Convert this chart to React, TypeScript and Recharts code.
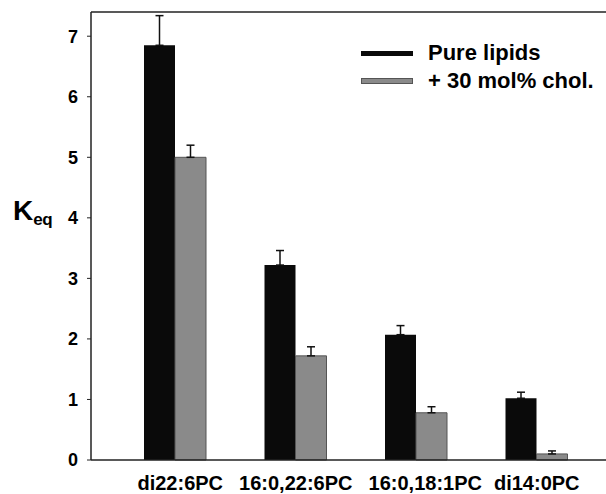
import React from 'react';
import { BarChart, Bar, XAxis, YAxis, ErrorBar, Label, ReferenceLine } from 'recharts';

const categories = ['di22:6PC', '16:0,22:6PC', '16:0,18:1PC', 'di14:0PC'];
const pureLipids = [6.85, 3.22, 2.07, 1.02];
const pureErr = [0.49, 0.24, 0.15, 0.1];
const withChol = [5.0, 1.72, 0.78, 0.1];
const cholErr = [0.2, 0.15, 0.1, 0.05];
const yTicks = [0, 1, 2, 3, 4, 5, 6, 7];
const yMax = 7.4;

const FONT = "'Liberation Sans', Arial, Helvetica, sans-serif";
// category labels in the original sit a little off-centre
const labelShift = [5, 0, 9, 0];

const series = [
  { key: 'pure', name: 'Pure lipids', fill: '#0a0a0a', stroke: 'none' },
  { key: 'chol', name: '+ 30 mol% chol.', fill: '#8a8a8a', stroke: '#555' },
];

const data = categories.map((name, i) => ({
  name,
  pure: pureLipids[i],
  pureErr: [0, pureErr[i]],
  chol: withChol[i],
  cholErr: [0, cholErr[i]],
}));

const CategoryTick = (props: any) => {
  const { x, y, payload, index } = props;
  return (
    <text
      x={x + (labelShift[index] || 0)}
      y={y}
      dy="0.71em"
      textAnchor="middle"
      fill="#000"
      fontSize={20}
      fontWeight={700}
      fontFamily={FONT}
    >
      {payload.value}
    </text>
  );
};

// legend drawn over the chart so it doesn't eat plot space
const ChartLegend = () => (
  <div
    style={{
      position: 'absolute',
      left: 361,
      top: 39,
      fontFamily: FONT,
      fontWeight: 700,
      fontSize: 22,
      color: '#000',
    }}
  >
    {series.map((s, i) => (
      <div key={s.key} style={{ display: 'flex', alignItems: 'center', height: 28 }}>
        <span
          style={{
            display: 'inline-block',
            width: i === 0 ? 52 : 50,
            height: i === 0 ? 5 : 4,
            background: s.fill,
            border: s.stroke === 'none' ? 'none' : `1px solid ${s.stroke}`,
            marginRight: 15,
          }}
        />
        <span>{s.name}</span>
      </div>
    ))}
  </div>
);

export default function App() {
  // the plot box runs off the right edge in the original, so the svg is wider and clipped
  return (
    <div style={{ position: 'absolute', left: 0, top: 0, width: 606, height: 494, background: '#fff', overflow: 'hidden' }}>
      <BarChart
        width={636}
        height={494}
        data={data}
        margin={{ top: 12, right: 0, bottom: 0, left: 0 }}
        barGap={0}
        barSize={31}
      >
        <XAxis
          dataKey="name"
          height={34}
          padding={{ left: 24, right: 39 }}
          axisLine={{ stroke: '#222', strokeWidth: 1.5 }}
          tickLine={false}
          tickSize={0}
          tickMargin={16}
          interval={0}
          tick={<CategoryTick />}
        />
        <YAxis
          width={91}
          domain={[0, yMax]}
          ticks={yTicks}
          interval={0}
          axisLine={{ stroke: '#222', strokeWidth: 1.5 }}
          tickLine={{ stroke: '#222' }}
          tickSize={4}
          tickMargin={9}
          tick={{ fill: '#000', fontSize: 18, fontWeight: 700, fontFamily: FONT }}
        >
          <Label
            content={() => (
              <text x={13} y={220} fill="#000" fontFamily={FONT} fontWeight={700}>
                <tspan fontSize={28}>K</tspan>
                <tspan fontSize={17} dy={5} letterSpacing={-0.5}>eq</tspan>
              </text>
            )}
          />
        </YAxis>
        <ReferenceLine y={yMax} stroke="#222" strokeWidth={1.5} />
        {series.map((s) => (
          <Bar
            key={s.key}
            dataKey={s.key}
            name={s.name}
            fill={s.fill}
            stroke={s.stroke}
            strokeWidth={1}
            isAnimationActive={false}
          >
            <ErrorBar dataKey={`${s.key}Err`} width={4} stroke="#111" strokeWidth={1.5} isAnimationActive={false} />
          </Bar>
        ))}
      </BarChart>
      <ChartLegend />
    </div>
  );
}
